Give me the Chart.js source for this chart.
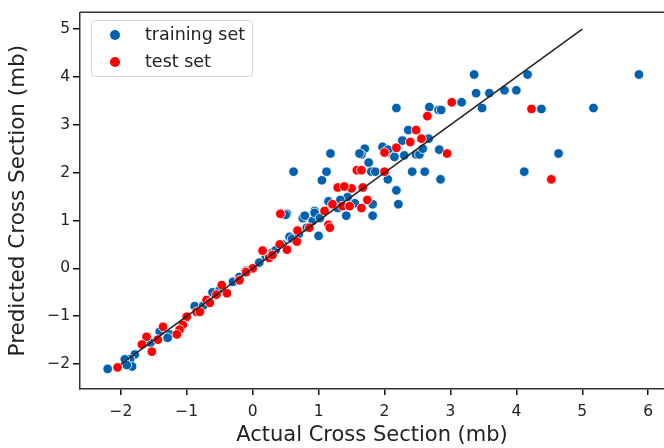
<!DOCTYPE html>
<html>
<head>
<meta charset="utf-8">
<script src="https://cdn.jsdelivr.net/npm/chart.js@4.4.1/dist/chart.umd.min.js"></script>
<style>
    html, body { margin: 0; padding: 0; background: #fff; }
    canvas { display: block; }
</style>
</head>
<body>
<canvas id="myChart" width="664" height="448"></canvas>
<script>
(function () {
    'use strict';

    // training set: actual vs predicted
    var trainX = [3.36, 4.17, 5.86, 3.39, 3.59, 3.82, 4.00, 3.48, 4.38, 5.17, 3.17, 2.18, 2.68, 2.82, 2.86,
        2.36, 2.67, 2.27, 1.97, 1.70, 1.65, 2.12, 2.15, 2.48, 2.53, 2.58, 2.83, 4.64, 1.76, 1.80,
        1.86, 2.05, 2.42, 2.61, 2.85, 4.12, 2.18, 2.21, 1.82, 1.42, 0.62, 1.18, 1.12, 1.05, 1.62,
        2.05, 1.82, 1.55, 1.29, 0.94, 0.52, 1.00, 0.82, 0.76, 0.91, 0.79, 0.94, 1.02, 0.56, 0.50,
        1.44, 1.33, 2.30, 1.15,
        -0.61, -0.88, -1.26, -1.41, -1.29, -1.79, -1.86, -1.94, -1.83, -2.20, -1.91,
        -0.30, 0.10, 0.30, 0.60, -1.00, -0.10, 0.20, -0.50, 0.45, 0.70, -0.75, -1.55, -0.20, 0.35];
    var trainY = [4.05, 4.05, 4.05, 3.66, 3.66, 3.72, 3.72, 3.35, 3.33, 3.35, 3.47, 3.35, 3.37, 3.31, 3.31,
        2.89, 2.71, 2.67, 2.54, 2.50, 2.38, 2.38, 2.33, 2.38, 2.38, 2.50, 2.48, 2.40, 2.21, 2.02,
        2.02, 1.86, 2.02, 2.02, 1.86, 2.02, 1.63, 1.34, 1.10, 1.10, 2.02, 2.40, 2.02, 1.84, 2.40,
        2.48, 1.34, 1.36, 1.26, 1.20, 1.14, 0.68, 0.85, 1.05, 0.99, 1.10, 1.16, 1.05, 0.66, 1.12,
        1.49, 1.43, 2.36, 1.40,
        -0.50, -0.79, -1.38, -1.32, -1.45, -1.80, -1.90, -1.90, -2.05, -2.10, -2.02,
        -0.28, 0.12, 0.33, 0.62, -1.03, -0.05, 0.25, -0.45, 0.50, 0.72, -0.78, -1.55, -0.18, 0.38];

    // test set
    var testX = [4.23, 3.02, 2.65, 2.48, 2.39, 2.56, 2.18, 2.00, 2.95, 1.58, 1.65, 2.00, 4.53, 1.29,
        1.50, 1.67, 1.39, 1.74, 1.21, 1.36, 1.47, 1.65, 1.09, 0.42, 1.15, 1.17, 0.86, 0.68, 0.67,
        0.41, 0.52, 0.15, 0.00, -0.20, -0.47, -0.39, -0.70, -0.65, -0.85, -0.80, -1.00, -1.06,
        -1.11, -1.36, -1.15, -1.61, -1.44, -1.68, -1.53, -2.05, 0.25, -0.10, 0.30, -0.55];
    var testY = [3.33, 3.47, 3.18, 2.89, 2.64, 2.71, 2.52, 2.42, 2.40, 2.05, 2.05, 2.02, 1.86, 1.69,
        1.67, 1.69, 1.71, 1.43, 1.34, 1.30, 1.30, 1.26, 1.20, 1.14, 0.91, 0.85, 0.85, 0.79, 0.56,
        0.50, 0.39, 0.37, 0.00, -0.25, -0.35, -0.52, -0.66, -0.72, -0.91, -0.91, -1.01, -1.18,
        -1.28, -1.22, -1.38, -1.43, -1.49, -1.59, -1.74, -2.07, 0.22, -0.08, 0.28, -0.55];

    // identity line
    var lineX = [-2, 5];
    var lineY = [-2, 5];

    var xTicks = [-2, -1, 0, 1, 2, 3, 4, 5, 6];
    var yTicks = [-2, -1, 0, 1, 2, 3, 4, 5];

    var BLUE = '#0062ae';
    var RED = '#ff0000';
    var FONT = "'DejaVu Sans', sans-serif";

    function toPoints(xs, ys) {
        return xs.map(function (x, i) {
            return { x: x, y: ys[i] };
        });
    }

    function label(v) {
        return v < 0 ? '\u2212' + Math.abs(v) : String(v);
    }

    // top spine plus a matplotlib style legend box
    var frame = {
        id: 'frame',
        afterDraw: function (chart) {
            var ctx = chart.ctx;
            var area = chart.chartArea;
            ctx.save();
            ctx.strokeStyle = '#333';
            ctx.lineWidth = 1.5;
            ctx.beginPath();
            ctx.moveTo(area.left, area.top);
            ctx.lineTo(chart.width, area.top);
            ctx.stroke();

            ctx.fillStyle = 'rgba(255,255,255,0.8)';
            ctx.strokeStyle = '#d6d6d6';
            ctx.lineWidth = 1;
            ctx.beginPath();
            ctx.roundRect(91.5, 20.5, 161, 56, 3);
            ctx.fill();
            ctx.stroke();

            var items = chart.data.datasets.filter(function (d) { return d.type !== 'line'; });
            ctx.font = '17.5px ' + FONT;
            ctx.textBaseline = 'middle';
            items.forEach(function (d, i) {
                var y = 35 + i * 27;
                ctx.beginPath();
                ctx.arc(115, y, 5, 0, Math.PI * 2);
                ctx.fillStyle = d.backgroundColor;
                ctx.fill();
                ctx.fillStyle = '#222';
                ctx.fillText(d.label, 145, y);
            });
            ctx.restore();
        }
    };

    new Chart(document.getElementById('myChart'), {
        type: 'scatter',
        data: {
            datasets: [{
                label: 'training set',
                data: toPoints(trainX, trainY),
                backgroundColor: BLUE,
                borderColor: '#ffffff',
                borderWidth: 0.8,
                pointRadius: 4.8,
                order: 2
            }, {
                label: 'test set',
                data: toPoints(testX, testY),
                backgroundColor: RED,
                borderColor: '#ffffff',
                borderWidth: 0.8,
                pointRadius: 4.8,
                order: 1
            }, {
                type: 'line',
                label: 'identity',
                data: toPoints(lineX, lineY),
                borderColor: '#222',
                borderWidth: 1.5,
                pointRadius: 0,
                fill: false,
                order: 0
            }]
        },
        options: {
            responsive: false,
            animation: false,
            layout: { autoPadding: false, padding: { left: 6, right: 0, top: 11, bottom: 0 } },
            plugins: {
                tooltip: { enabled: false },
                legend: { display: false }
            },
            scales: {
                x: {
                    type: 'linear',
                    min: -2.62,
                    max: 6.24,
                    afterBuildTicks: function (scale) {
                        scale.ticks = xTicks.map(function (v) { return { value: v }; });
                    },
                    afterFit: function (scale) {
                        scale.height = 59;
                        scale.paddingLeft = 0;
                        scale.paddingRight = 0;
                    },
                    grid: { drawOnChartArea: false, drawTicks: true, tickLength: 6, color: '#111', lineWidth: 1.5 },
                    border: { display: true, color: '#333', width: 1.5 },
                    ticks: {
                        autoSkip: false,
                        maxRotation: 0,
                        padding: 8,
                        color: '#222',
                        font: { family: FONT, size: 15.5 },
                        callback: function (v) { return label(v); }
                    },
                    title: {
                        display: true,
                        text: 'Actual Cross Section (mb)',
                        color: '#222',
                        padding: { top: 3, bottom: 0 },
                        font: { family: FONT, size: 21 }
                    }
                },
                y: {
                    type: 'linear',
                    min: -2.52,
                    max: 5.35,
                    afterBuildTicks: function (scale) {
                        scale.ticks = yTicks.map(function (v) { return { value: v }; });
                    },
                    afterFit: function (scale) { scale.width = 74; },
                    grid: { drawOnChartArea: false, drawTicks: true, tickLength: 7, color: '#111', lineWidth: 1.5 },
                    border: { display: true, color: '#333', width: 1.5 },
                    ticks: {
                        autoSkip: false,
                        padding: 3,
                        color: '#222',
                        font: { family: FONT, size: 15.5 },
                        callback: function (v) { return label(v); }
                    },
                    title: {
                        display: true,
                        text: 'Predicted Cross Section (mb)',
                        color: '#222',
                        padding: { top: 0, bottom: 2 },
                        font: { family: FONT, size: 21.5 }
                    }
                }
            }
        },
        plugins: [frame]
    });
})();
</script>
</body>
</html>
